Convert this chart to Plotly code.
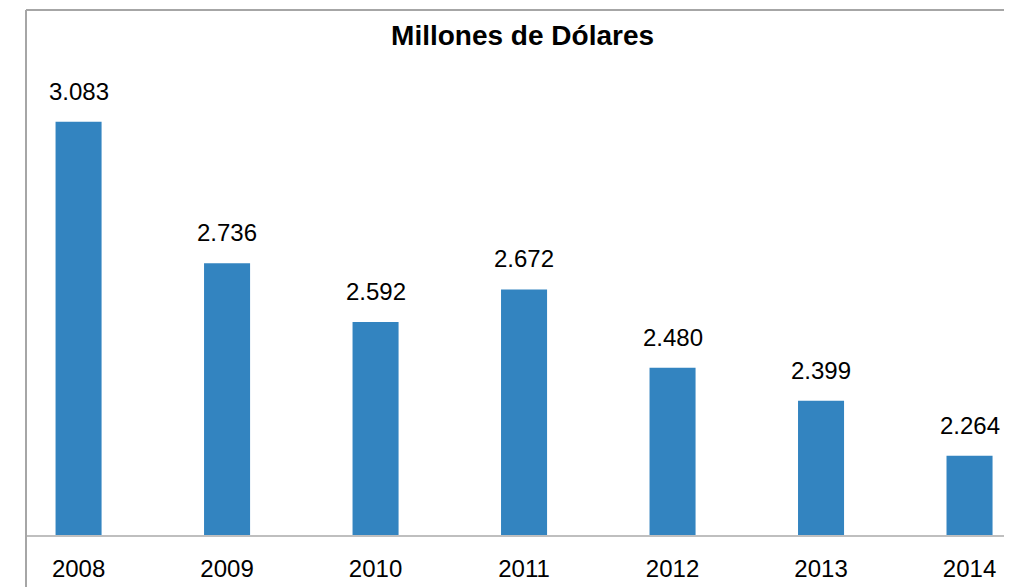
"""
Bar chart: Millones de Dólares 2008-2014
"""
import plotly.graph_objects as go

# Data
years = ['2008', '2009', '2010', '2011', '2012', '2013', '2014']
values = [3083, 2736, 2592, 2672, 2480, 2399, 2264]

BAR_COLOR = '#3384C0'
FRAME_COLOR = '#a6a6a6'
BASE_COLOR = '#bfbfbf'
FONT = 'Liberation Sans, Arial, sans-serif'

fig = go.Figure()

fig.add_trace(go.Bar(
    x=years,
    y=values,
    marker=dict(color=BAR_COLOR, line=dict(width=0)),
    width=0.31,
    hoverinfo='x+y',
    showlegend=False
))

# Value labels above bars (thousands separator is '.')
# use the category index as x so plotly doesn't read '2008' as a number
for i, val in enumerate(values):
    fig.add_annotation(
        x=i,
        y=val,
        xref='x',
        yref='y',
        text=f'{val:,}'.replace(',', '.'),
        showarrow=False,
        yanchor='bottom',
        yshift=15,
        font=dict(family=FONT, size=24, color='#000000')
    )

# Chart frame: left edge runs to the bottom of the picture, top edge to the right
fig.add_shape(type='line', xref='paper', yref='paper',
              x0=0, x1=0, y0=-0.1, y1=1,
              line=dict(color=FRAME_COLOR, width=2))
fig.add_shape(type='line', xref='paper', yref='paper',
              x0=0, x1=1.01, y0=1, y1=1,
              line=dict(color=FRAME_COLOR, width=2))

fig.update_layout(
    title=dict(
        text='<b>Millones de Dólares</b>',
        font=dict(family=FONT, size=28, color='#000000'),
        x=0.5036,
        xref='paper',
        y=0.952,
        yref='paper',
        xanchor='center',
        yanchor='middle'
    ),
    xaxis=dict(
        type='category',
        range=[-0.354, 6.286],
        showline=True,
        linecolor=BASE_COLOR,
        linewidth=2,
        showgrid=False,
        ticks='',
        ticklabelstandoff=11,
        tickfont=dict(family=FONT, size=24, color='#000000')
    ),
    yaxis=dict(
        range=[2070, 3357],
        showgrid=False,
        zeroline=False,
        showticklabels=False,
        showline=False
    ),
    plot_bgcolor='white',
    paper_bgcolor='white',
    # page body has an 8px margin, so the figure is 8px smaller and shifted
    width=1004,
    height=579,
    margin=dict(l=18, r=0, t=2, b=52),
    font=dict(family=FONT)
)

fig.write_html('out.html')
